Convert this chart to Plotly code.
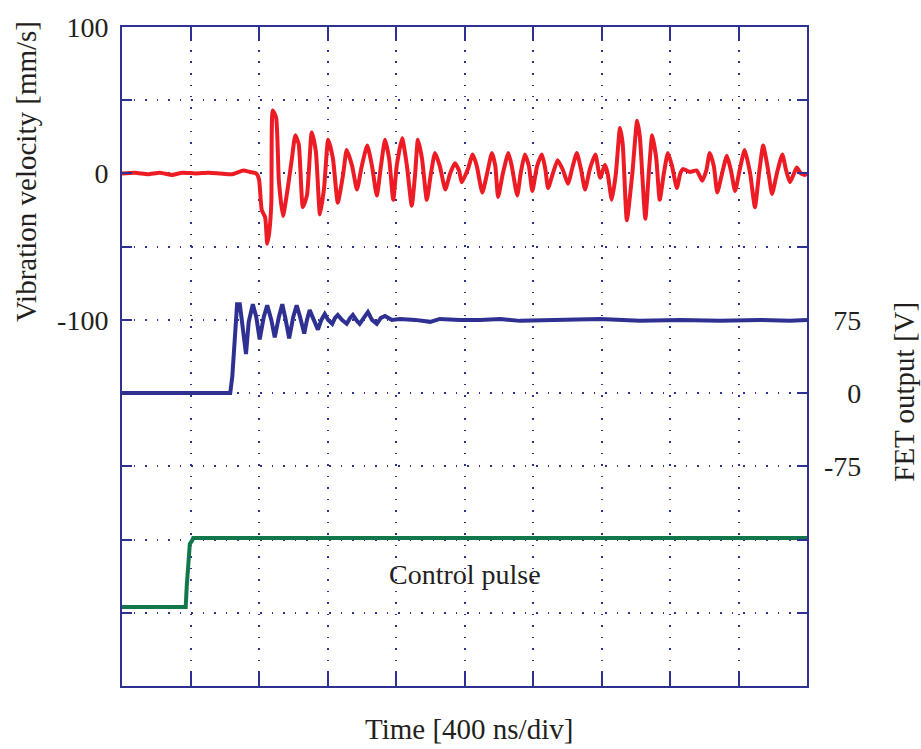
import plotly.graph_objects as go

# ---- data (time in divisions of 400 ns) ----
red_t = [0.00, 0.19, 0.38, 0.55, 0.73, 0.88, 1.07, 1.26, 1.43, 1.61, 1.77, 1.87, 1.96, 2.00, 2.04, 2.09,
         2.12, 2.15, 2.18, 2.20, 2.25, 2.29, 2.35, 2.42, 2.48, 2.53, 2.58, 2.64, 2.70, 2.77, 2.83, 2.89,
         2.95, 3.01, 3.08, 3.15, 3.23, 3.28, 3.36, 3.43, 3.50, 3.58, 3.65, 3.72, 3.78, 3.84, 3.90, 3.96,
         4.01, 4.09, 4.16, 4.23, 4.28, 4.32, 4.38, 4.45, 4.51, 4.57, 4.64, 4.72, 4.79, 4.86, 4.92, 4.96,
         5.05, 5.12, 5.18, 5.26, 5.33, 5.40, 5.45, 5.49, 5.56, 5.64, 5.69, 5.77, 5.82, 5.88, 5.94, 5.99,
         6.06, 6.13, 6.18, 6.22, 6.29, 6.36, 6.44, 6.51, 6.57, 6.64, 6.70, 6.76, 6.83, 6.91, 6.98, 7.05,
         7.09, 7.15, 7.21, 7.27, 7.31, 7.37, 7.45, 7.52, 7.56, 7.64, 7.69, 7.74, 7.80, 7.85, 7.91, 7.97,
         8.03, 8.10, 8.15, 8.19, 8.29, 8.39, 8.47, 8.53, 8.58, 8.64, 8.69, 8.76, 8.83, 8.89, 8.95, 9.02,
         9.09, 9.17, 9.24, 9.30, 9.36, 9.43, 9.49, 9.56, 9.64, 9.69, 9.75, 9.81, 9.85, 9.91, 9.97, 10.0]
red_v = [0, 0.5, -0.5, 0.5, -1, 0.5, 0, 0.5, 0, -0.5, 2, 1, 0, -4, -25, -30,
         -48, -40, -20, 43, 38, -5, -29, -10, 10, 26, 20, -23, -15, 28, 15, -28,
         -10, 23, 10, -20, 0, 16, 5, -11, 5, 19, 5, -15, 5, 23, 10, -18,
         5, 24, 5, -22, 0, 23, 10, -18, 0, 14, 5, -11, 0, 7, 2, -6,
         3, 13, 5, -13, 0, 14, 5, -16, 0, 14, 5, -15, 0, 13, 5, -12,
         5, 13, 3, -10, 0, 9, 2, -7, 3, 14, 3, -11, 3, 13, -3, 6,
         0, -18, 0, 31, 20, -32, 0, 36, 25, -31, 0, 26, 10, -18, 0, 14,
         5, -10, 0, 3, 1, 2, -5, 2, 14, 5, -13, 0, 12, 2, -12, 3,
         16, 0, -23, 0, 19, 3, -14, 0, 13, 3, -6, 0, 4, 0, -1, 0]

blue_t = [0.00, 1.58, 1.61, 1.62, 1.65, 1.68, 1.72, 1.77, 1.81, 1.85, 1.91, 1.96, 2.01, 2.07, 2.12,
          2.18, 2.23, 2.29, 2.34, 2.39, 2.44, 2.50, 2.55, 2.60, 2.66, 2.70, 2.74, 2.80, 2.86, 2.91,
          2.96, 3.01, 3.07, 3.11, 3.15, 3.21, 3.28, 3.33, 3.37, 3.43, 3.47, 3.53, 3.59, 3.65, 3.72,
          3.78, 3.84, 3.94, 4.06, 4.28, 4.50, 4.64, 4.93, 5.23, 5.52, 5.81, 6.39, 6.98, 7.56, 8.15,
          8.73, 9.31, 9.75, 10.0]
blue_v = [0, 0, 17, 29, 70, 91, 91, 63, 40, 73, 91, 78, 55, 78, 90,
          75, 57, 78, 91, 75, 56, 78, 90, 78, 61, 75, 85, 75, 65, 75,
          81, 75, 71, 77, 80, 75, 71, 77, 80, 74, 71, 77, 83, 75, 71,
          77, 79, 75, 76, 75, 73, 76, 75, 75, 76, 74, 75, 76, 74, 75,
          74, 75, 74, 75]

green_t = [0.00, 0.93, 0.945, 0.97, 0.99, 1.02, 1.04, 10.0]
green_v = [-296, -296, -282, -269, -253, -251, -249, -249]

left_ticks = [100, 50, 0, -50, -100, -150, -200, -250, -300, -350]
left_labels = ["100", "", "0", "", "-100", "", "", "", "", ""]
right_ticks = [75, 0, -75]
right_labels = ["<span style='color:rgba(0,0,0,0)'>-</span>75",
                "<span style='color:rgba(0,0,0,0)'>-7</span>0",
                "-75"]
x_ticks = list(range(0, 11))

AX = "#2E3192"
TXT = "#231F20"
FONT = "Liberation Serif"

fig = go.Figure()
fig.add_trace(go.Scatter(x=green_t, y=green_v, mode="lines",
                         line=dict(color="#12774A", width=4), yaxis="y"))
fig.add_trace(go.Scatter(x=blue_t, y=blue_v, mode="lines",
                         line=dict(color="#2E3192", width=4), yaxis="y2"))
fig.add_trace(go.Scatter(x=red_t, y=red_v, mode="lines",
                         line=dict(color="#ED1C24", width=4, shape="spline", smoothing=0.5),
                         yaxis="y"))

fig.update_layout(
    width=921, height=749,
    margin=dict(l=122, r=114, t=23, b=63),
    paper_bgcolor="white", plot_bgcolor="white",
    showlegend=False,
    font=dict(family=FONT, size=28, color=TXT),
    xaxis=dict(range=[0, 10], tickvals=x_ticks, ticktext=[""] * len(x_ticks),
               ticks="inside", ticklen=14, tickwidth=2, tickcolor=AX,
               showline=True, linecolor=AX, linewidth=2, mirror="ticks",
               showgrid=True, gridcolor=AX, gridwidth=1.5, griddash="1.5px,10px",
               zeroline=False, fixedrange=True),
    yaxis=dict(range=[-350, 100], tickvals=left_ticks, ticktext=left_labels,
               ticks="inside", ticklen=10, tickwidth=2, tickcolor=AX,
               showline=True, linecolor=AX, linewidth=2, mirror="ticks",
               showgrid=True, gridcolor=AX, gridwidth=1.5, griddash="1.5px,10px",
               zeroline=False, ticklabelstandoff=6,
               tickfont=dict(family=FONT, size=28, color=TXT)),
    yaxis2=dict(range=[-300, 375], overlaying="y", side="right",
                tickvals=right_ticks, ticktext=right_labels,
                ticks="", showline=False, showgrid=False, zeroline=False,
                ticklabelstandoff=16,
                tickfont=dict(family=FONT, size=28, color=TXT)),
    annotations=[
        dict(text="Vibration velocity [mm/s]", xref="paper", yref="paper",
             x=-0.140, y=0.780, xanchor="center", yanchor="middle", textangle=-90,
             showarrow=False, font=dict(family=FONT, size=29, color=TXT)),
        dict(text="FET output [V]", xref="paper", yref="paper",
             x=1.1416, y=0.4465, xanchor="center", yanchor="middle", textangle=-90,
             showarrow=False, font=dict(family=FONT, size=29, color=TXT)),
        dict(text="Time [400 ns/div]", xref="paper", yref="paper",
             x=0.507, y=-0.065, xanchor="center", yanchor="middle",
             showarrow=False, font=dict(family=FONT, size=29, color=TXT)),
        dict(text="Control pulse", xref="x", yref="y",
             x=5.0, y=-274, xanchor="center", yanchor="middle",
             showarrow=False, font=dict(family=FONT, size=28, color=TXT)),
    ],
)

fig.write_html("out.html", config={"displayModeBar": False},
               post_script="document.body.style.margin='0';document.body.style.overflow='hidden';")
